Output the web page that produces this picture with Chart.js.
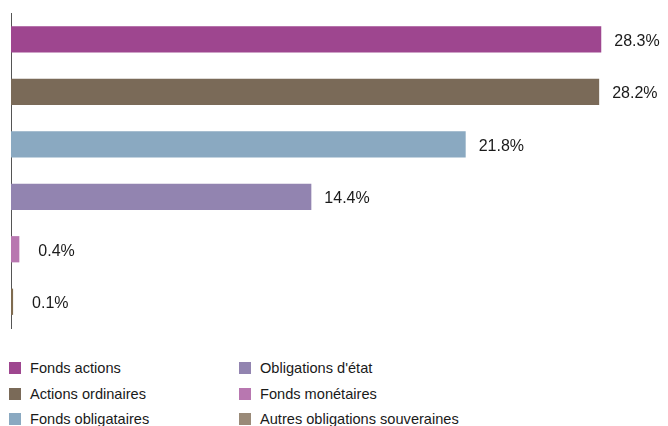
<!DOCTYPE html>
<html>
<head>
<meta charset="utf-8">
<script src="https://cdn.jsdelivr.net/npm/chart.js@4"></script>
<style>
  html, body { margin: 0; padding: 0; background: #fff; overflow: hidden; }
  body { width: 668px; height: 426px; position: relative; font-family: "Liberation Sans", Arial, sans-serif; }
  #wrap { position: absolute; left: 0; top: 0; width: 668px; height: 340px; }
  #legend { position: absolute; left: 9px; top: 360px; width: 660px; }
  .item { position: absolute; font-size: 14.6px; color: #1a1a1a; white-space: nowrap; line-height: 16px; }
  .item span.box { display: inline-block; width: 12px; height: 12px; vertical-align: -1px; margin-right: 9px; }
</style>
</head>
<body>
<div id="wrap"><canvas id="allocChart"></canvas></div>
<div id="legend"></div>
<script>
// Répartition des placements

const categories = ['Fonds actions', 'Actions ordinaires', 'Fonds obligataires', "Obligations d'état", 'Fonds monétaires', 'Autres obligations souveraines'];
const values = [28.3, 28.2, 21.8, 14.4, 0.4, 0.1];
const colors = ['#9E468F', '#7A6A58', '#8AA9C1', '#9284B0', '#B877B0', '#9A8A78'];
const barColors = ['#9E468F', '#7A6A58', '#8AA9C1', '#9284B0', '#B877B0', '#7F6B50'];

const valueLabels = {
    id: 'valueLabels',
    afterDatasetsDraw(chart) {
        const ctx = chart.ctx;
        const meta = chart.getDatasetMeta(0);
        const left = chart.chartArea.left;
        ctx.save();
        ctx.font = '16px "Liberation Sans", Arial, sans-serif';
        ctx.fillStyle = '#1a1a1a';
        ctx.textAlign = 'left';
        ctx.textBaseline = 'middle';
        meta.data.forEach((bar, i) => {
            const gap = (bar.x - left) < 20 ? 19 : 13;
            ctx.fillText(values[i].toFixed(1) + '%', bar.x + gap, bar.y + 2);
        });
        ctx.restore();
    }
};

const allocCtx = document.getElementById('allocChart').getContext('2d');
const allocChart = new Chart(allocCtx, {
    type: 'bar',
    data: {
        labels: categories,
        datasets: [{
            data: values,
            backgroundColor: barColors,
            barPercentage: 0.5,
            categoryPercentage: 1
        }]
    },
    options: {
        indexAxis: 'y',
        responsive: true,
        maintainAspectRatio: false,
        animation: false,
        layout: { padding: { left: 11, right: 0, top: 13, bottom: 12 } },
        plugins: { legend: { display: false }, tooltip: { enabled: false } },
        scales: {
            x: { display: false, min: 0, max: 31.5 },
            y: {
                display: true,
                ticks: { display: false },
                grid: { display: false, drawTicks: false },
                border: { display: true, color: '#555', width: 1 }
            }
        }
    },
    plugins: [valueLabels]
});

// Légende en deux colonnes
function loadLegend() {
    const legend = document.getElementById('legend');
    categories.forEach((name, i) => {
        const col = Math.floor(i / 3);
        const row = i % 3;
        const item = document.createElement('div');
        item.className = 'item';
        item.style.left = (col * 230) + 'px';
        item.style.top = (row * 25.5) + 'px';
        item.innerHTML = `<span class="box" style="background:${colors[i]}"></span>${name}`;
        legend.appendChild(item);
    });
}

loadLegend();
</script>
</body>
</html>
